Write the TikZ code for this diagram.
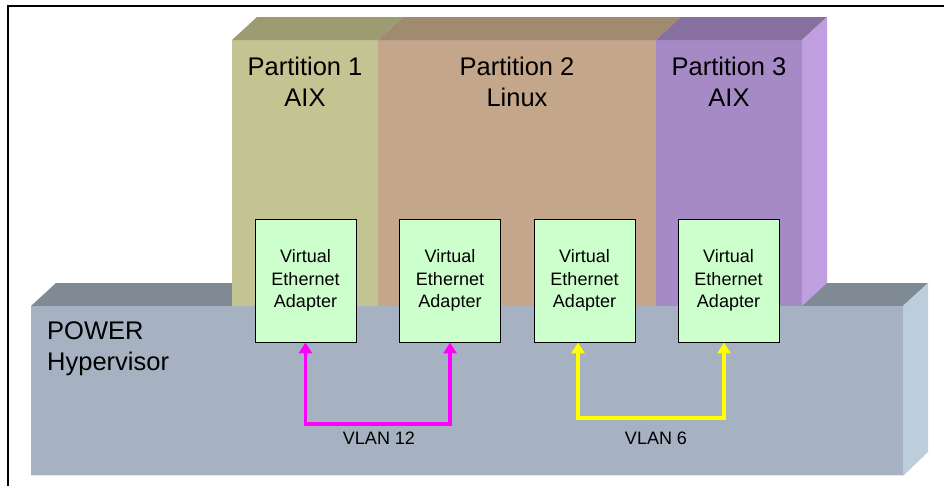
\documentclass[tikz,border=0pt]{standalone}
\usepackage{fontspec}
\setmainfont{Liberation Sans}
\usetikzlibrary{arrows.meta}
\definecolor{hvfront}{HTML}{A6B2C2}
\definecolor{hvtop}{HTML}{808A94}
\definecolor{hvside}{HTML}{BCCDDC}
\definecolor{pafront}{HTML}{C4C492}
\definecolor{patop}{HTML}{9C9C72}
\definecolor{pbfront}{HTML}{C4A68A}
\definecolor{pbtop}{HTML}{A08A70}
\definecolor{pcfront}{HTML}{A68AC6}
\definecolor{pctop}{HTML}{85709F}
\definecolor{pcside}{HTML}{C09FE0}
\definecolor{adfill}{HTML}{CCFFCC}
\definecolor{vmag}{HTML}{FF00FF}
\definecolor{vyel}{HTML}{FFFF00}
\tikzset{
  adapter/.style={draw=black, line width=0.9pt, fill=adfill, minimum width=101pt, minimum height=123pt, inner sep=0pt, align=center, font=\fontsize{18}{22.5}\selectfont},
  ptitle/.style={align=center, font=\fontsize{25.5}{31.5}\selectfont, inner sep=0pt},
  hvtitle/.style={anchor=base west, font=\fontsize{25.5}{31}\selectfont, inner sep=0pt},
  vlanlabel/.style={anchor=base, font=\fontsize{18}{22}\selectfont, inner sep=0pt},
  vlink/.style={line width=3.4pt, {Triangle[length=11pt,width=13pt]}-{Triangle[length=11pt,width=13pt]}}
}
\begin{document}
\begin{tikzpicture}[x=1pt,y=-1pt]
\useasboundingbox (0,0) rectangle (944,485);
\fill[white] (0,0) rectangle (944,485);
% frame
\draw[line width=1.2pt] (8,490) -- (8,6) -- (950,6);
% hypervisor top and side
\fill[hvtop] (31,306) -- (56,283) -- (928,283) -- (903,306) -- cycle;
\fill[hvside] (903,306) -- (928,283) -- (928,452) -- (903,476) -- cycle;
% partitions front faces
\fill[pafront] (232,40) rectangle (378,306);
\fill[pbfront] (378,40) rectangle (656,306);
\fill[pcfront] (656,40) rectangle (802,306);
% partition top faces
\fill[patop] (232,40) -- (257,17) -- (403,17) -- (378,40) -- cycle;
\fill[pbtop] (378,40) -- (403,17) -- (681,17) -- (656,40) -- cycle;
\fill[pctop] (656,40) -- (681,17) -- (827,17) -- (802,40) -- cycle;
% partition 3 side
\fill[pcside] (802,40) -- (827,17) -- (827,283) -- (802,306) -- cycle;
% hypervisor front
\fill[hvfront] (31,306) rectangle (903,476);
\draw[white!70!hvfront, line width=1pt] (31,475.5) -- (903,475.5);
% titles
\node[ptitle] (p1) at (305,82) {Partition 1\\AIX};
\node[ptitle] (p2) at (517,82) {Partition 2\\Linux};
\node[ptitle] (p3) at (729,82) {Partition 3\\AIX};
\node[hvtitle] (hv1) at (47,339) {POWER};
\node[hvtitle] (hv2) at (47,370) {Hypervisor};
% adapters
\node[adapter] (a1) at (305.5,280.5) {Virtual\\Ethernet\\Adapter};
\node[adapter] (a2) at (450,280.5) {Virtual\\Ethernet\\Adapter};
\node[adapter] (a3) at (584.5,280.5) {Virtual\\Ethernet\\Adapter};
\node[adapter] (a4) at (728.5,280.5) {Virtual\\Ethernet\\Adapter};
% VLAN links
\coordinate (v12) at (378,424);
\coordinate (v6) at (651,418);
\draw[vlink, draw=vmag] (a1.south) |- (v12) -| (a2.south);
\draw[vlink, draw=vyel] ([xshift=-6.5pt]a3.south) |- (v6) -| ([xshift=-4.5pt]a4.south);
\node[vlanlabel] (l12) at (379,444) {VLAN 12};
\node[vlanlabel] (l6) at (656,444) {VLAN 6};
\end{tikzpicture}
\end{document}
